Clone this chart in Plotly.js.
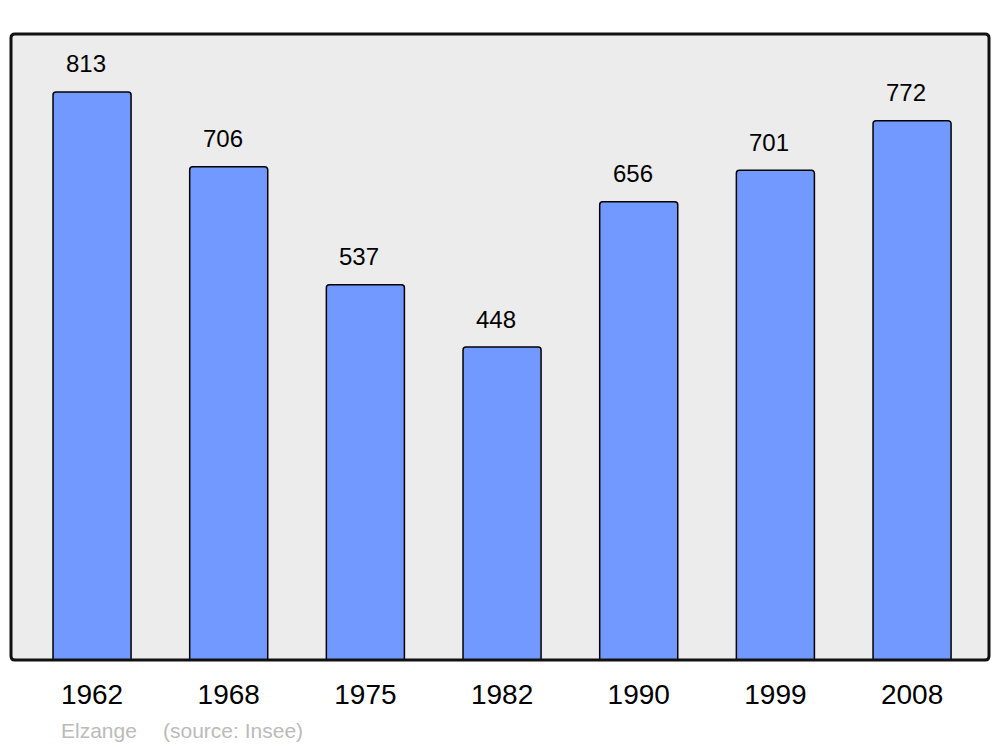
<!DOCTYPE html>
<html>
<head>
<meta charset="utf-8">
<script src="https://cdn.plot.ly/plotly-3.0.1.min.js"></script>
<style>html,body{margin:0;padding:0;background:#fff;}#chart{width:1000px;height:747px;}</style>
</head>
<body>
<div id="chart"></div>
<script>
const years = ["1962", "1968", "1975", "1982", "1990", "1999", "2008"];
const population = [813, 706, 537, 448, 656, 701, 772];
const commune = "Elzange";
const sourceText = "(source: Insee)";

const W = 978, H = 626;
const rx = 4 / W, ry = 4 / H;
const framePath = `M ${rx},0 L ${1-rx},0 Q 1,0 1,${ry} L 1,${1-ry} Q 1,1 ${1-rx},1 L ${rx},1 Q 0,1 0,${1-ry} L 0,${ry} Q 0,0 ${rx},0 Z`;

const FONT = 'Liberation Sans, Arial, sans-serif';

const trace = {
  type: 'bar',
  x: years,
  y: population,
  width: 0.571,
  marker: {color: '#7299ff', line: {color: '#000', width: 1.5}, cornerradius: 3},
  hoverinfo: 'none'
};

const annotations = years.map((yr, i) => ({
  x: i, y: population[i], xref: 'x', yref: 'y',
  text: String(population[i]), showarrow: false,
  yshift: 28, xshift: -6, yanchor: 'middle',
  font: {family: FONT, size: 24, color: '#000'}
}));
annotations.push({
  xref: 'paper', yref: 'paper', x: (59-11)/978, y: -(730-660)/626,
  xanchor: 'left', yanchor: 'middle', showarrow: false,
  text: commune,
  font: {family: FONT, size: 21, color: '#bbbbbb'}
});
annotations.push({
  xref: 'paper', yref: 'paper', x: (161-11)/978, y: -(730-660)/626,
  xanchor: 'left', yanchor: 'middle', showarrow: false,
  text: sourceText,
  font: {family: FONT, size: 21, color: '#bbbbbb'}
});

const layout = {
  width: 1000, height: 747,
  margin: {l: 11, r: 11, t: 34, b: 87},
  paper_bgcolor: '#fff',
  plot_bgcolor: '#ececec',
  showlegend: false,
  xaxis: {
    type: 'category', range: [-0.593, 6.563],
    showgrid: false, zeroline: false, showline: false, ticks: '',
    ticklabelstandoff: 15,
    tickfont: {family: FONT, size: 28, color: '#000'}
  },
  yaxis: {
    range: [0, 896], showgrid: false, zeroline: false, showline: false,
    showticklabels: false, ticks: ''
  },
  shapes: [{
    type: 'path', xref: 'paper', yref: 'paper', path: framePath,
    line: {color: '#111', width: 3}, fillcolor: 'rgba(0,0,0,0)', layer: 'above'
  }],
  annotations: annotations
};

Plotly.newPlot('chart', [trace], layout, {staticPlot: true, displayModeBar: false});
</script>
</body>
</html>
